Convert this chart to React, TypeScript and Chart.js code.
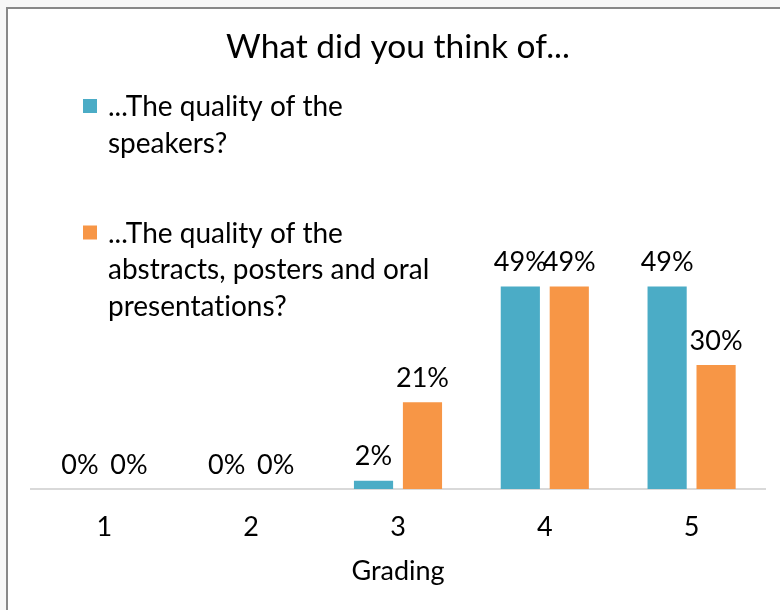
import React, { useEffect, useRef } from "react";
import { Chart, registerables } from "chart.js";

Chart.register(...registerables);

// ---- data ----
const categories: string[] = ["1", "2", "3", "4", "5"];
const speakersValues: number[] = [0, 0, 2, 49, 49];
const abstractsValues: number[] = [0, 0, 21, 49, 30];
const speakersLegendLines: string[] = ["...The quality of the", "speakers?"];
const abstractsLegendLines: string[] = [
  "...The quality of the",
  "abstracts, posters and oral",
  "presentations?",
];
const chartTitle = "What did you think of...";
const xAxisTitle = "Grading";
const yAxisMax = 60;

const FONT = "Lato, 'Open Sans', sans-serif";
const BLUE = "#4BACC6";
const ORANGE = "#F79646";
const TEXT = "#000000";

const dataLabelPlugin = {
  id: "dataLabelPlugin",
  afterDatasetsDraw(chart: any) {
    const ctx = chart.ctx;
    ctx.save();
    ctx.font = `27px ${FONT}`;
    ctx.fillStyle = TEXT;
    ctx.textAlign = "center";
    ctx.textBaseline = "middle";
    chart.data.datasets.forEach((ds: any, di: number) => {
      const meta = chart.getDatasetMeta(di);
      meta.data.forEach((el: any, i: number) => {
        ctx.fillText(`${ds.data[i]}%`, el.x, el.y - 24);
      });
    });
    ctx.restore();
  },
};

const innerLegendPlugin = {
  id: "innerLegendPlugin",
  afterDraw(chart: any, _args: any, opts: any) {
    const ctx = chart.ctx;
    ctx.save();
    ctx.font = `28px ${FONT}`;
    try {
      (ctx as any).textRendering = "optimizeSpeed";
    } catch (e) {
      /* ignore */
    }
    ctx.textBaseline = "middle";
    ctx.textAlign = "left";
    let y = opts.startY;
    chart.data.datasets.forEach((ds: any) => {
      const lines: string[] = ds.legendLines;
      ctx.fillStyle = ds.backgroundColor;
      ctx.fillRect(opts.boxX, y - opts.box / 2 - 1, opts.box, opts.box);
      ctx.fillStyle = TEXT;
      lines.forEach((ln, k) => {
        ctx.fillText(ln, opts.textX, y + k * opts.lineH);
      });
      y += (lines.length - 1) * opts.lineH + opts.itemStep;
    });
    ctx.restore();
  },
};

export default function App() {
  const ref = useRef<HTMLCanvasElement>(null);

  useEffect(() => {
    if (!ref.current) return;
    const chart = new Chart(ref.current, {
      type: "bar",
      data: {
        labels: categories,
        datasets: [
          {
            label: speakersLegendLines.join(" "),
            legendLines: speakersLegendLines,
            data: speakersValues,
            backgroundColor: BLUE,
            categoryPercentage: 0.667,
            barPercentage: 0.8,
          } as any,
          {
            label: abstractsLegendLines.join(" "),
            legendLines: abstractsLegendLines,
            data: abstractsValues,
            backgroundColor: ORANGE,
            categoryPercentage: 0.667,
            barPercentage: 0.8,
          } as any,
        ],
      },
      options: {
        animation: false,
        responsive: false,
        devicePixelRatio: 1,
        layout: { padding: { left: 31, right: 15, top: 0, bottom: 0 } },
        plugins: {
          legend: { display: false },
          tooltip: { enabled: false },
          title: {
            display: true,
            text: chartTitle,
            color: TEXT,
            font: { family: FONT, size: 33.5, weight: "normal" },
            padding: { top: 27, bottom: 173.8 },
          },
          innerLegendPlugin: {
            startY: 107,
            lineH: 36.5,
            itemStep: 90,
            boxX: 83,
            box: 14,
            textX: 108,
          },
        } as any,
        scales: {
          x: {
            grid: { display: false, drawTicks: false },
            border: { display: true, color: "#d9d9d9", width: 2 },
            ticks: {
              color: TEXT,
              font: { family: FONT, size: 27 },
              padding: 21.8,
            },
            title: {
              display: true,
              text: xAxisTitle,
              color: TEXT,
              font: { family: FONT, size: 27 },
              padding: { top: -10.2, bottom: 22.8 },
            },
          },
          y: {
            display: false,
            min: 0,
            max: yAxisMax,
          },
        },
      },
      plugins: [dataLabelPlugin, innerLegendPlugin],
    });
    return () => chart.destroy();
  }, []);

  return (
    <div
      style={{
        position: "fixed",
        left: 0,
        top: 0,
        width: 780,
        height: 610,
        background: "#f7f7f7",
        overflow: "hidden",
      }}
    >
      <div
        style={{
          position: "absolute",
          left: 6,
          top: 7,
          width: 800,
          height: 700,
          background: "#ffffff",
          borderTop: "2px solid #888888",
          borderLeft: "2px solid #888888",
        }}
      />
      <canvas
        ref={ref}
        width={780}
        height={610}
        style={{ position: "absolute", left: 0, top: 0, width: 780, height: 610 }}
      />
    </div>
  );
}
